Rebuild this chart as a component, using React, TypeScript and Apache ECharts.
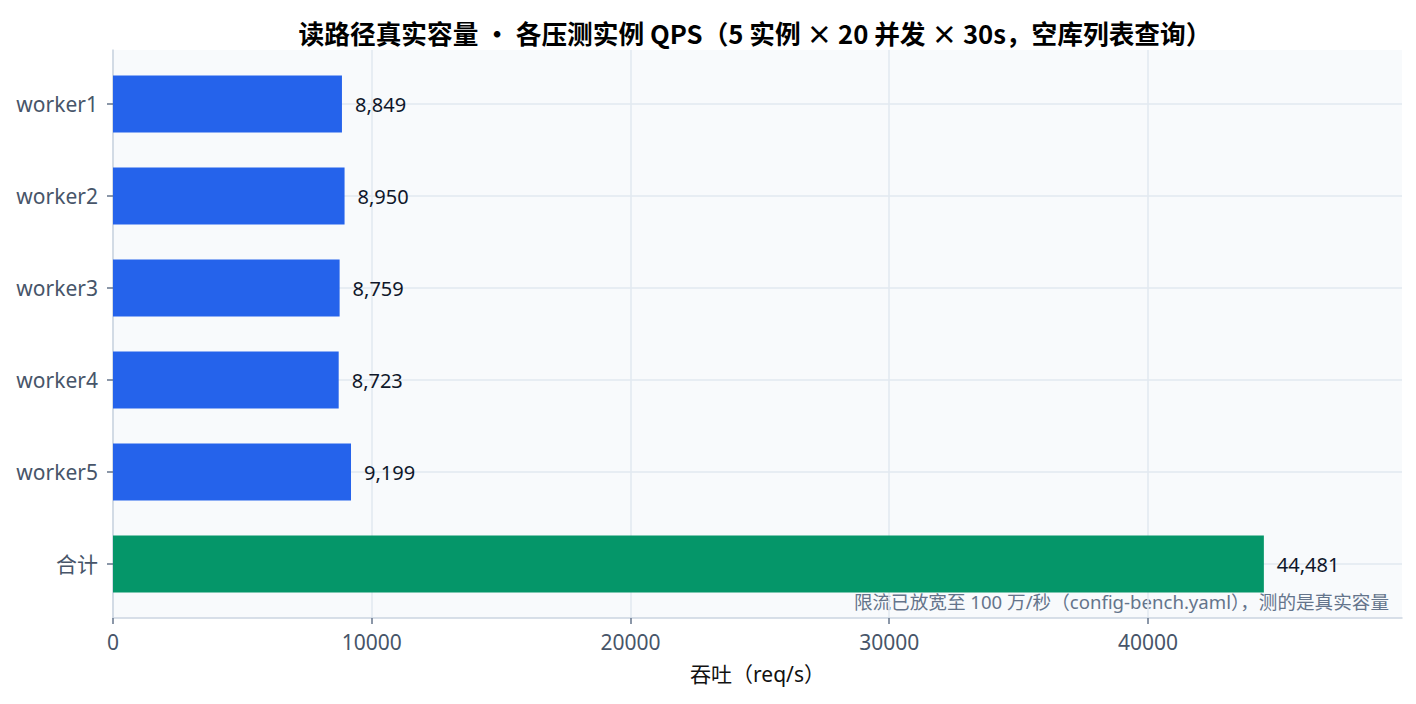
import React, { useRef, useEffect } from 'react';
import * as echarts from 'echarts';

const FONT = '"Noto Sans", "Noto Sans CJK SC", sans-serif';
const FONT_CJK = '"Noto Sans CJK SC", "Noto Sans", sans-serif';

// ─── Data ────────────────────────────────────────────────────────────────────
const CATEGORIES = ['worker1', 'worker2', 'worker3', 'worker4', 'worker5', '合计'];
const QPS = [8849, 8950, 8759, 8723, 9199, 44481];
const X_TICK_MAX = 40000;   // last labelled tick
const X_TICK_STEP = 10000;
const X_MAX = 49820;        // axis extent (no tick drawn here)

const TITLE = '读路径真实容量 • 各压测实例 QPS（5 实例 × 20 并发 × 30s，空库列表查询）';
const NOTE = '限流已放宽至 100 万/秒（config-bench.yaml），测的是真实容量';
const X_NAME = '吞吐（req/s）';

// ─── Layout / styles ─────────────────────────────────────────────────────────
const W = 1416;
const H = 704;
const G_LEFT = 113;
const G_RIGHT = 14;
const PLOT_W = W - G_LEFT - G_RIGHT;

const BLUE = '#2563eb';
const GREEN = '#059669';
const PLOT_BG = '#f8fafc';
const SPLIT = '#e2e8f0';
const AXIS_LINE = '#cbd5e1';
const TICK = '#64748b';
const LABEL = '#475569';
const DARK = '#0f172a';

function getOption(): echarts.EChartsCoreOption {
  return {
    animation: false,
    backgroundColor: '#ffffff',
    title: {
      text: TITLE,
      left: 750,
      textAlign: 'center',
      top: 15,
      textStyle: { fontFamily: FONT_CJK, fontSize: 25.7, fontWeight: 'bold', color: '#000000' },
    },
    grid: [
      // 0: frame — background, left + bottom axis lines, axis name
      { left: G_LEFT, right: G_RIGHT, top: 50, bottom: 86, show: true, backgroundColor: PLOT_BG, borderWidth: 0 },
      // 1: tick scale — 0..40000 only, so no tick at the far end
      { left: G_LEFT, width: (PLOT_W * X_TICK_MAX) / X_MAX, top: 50, bottom: 86 },
      // 2: bars
      { left: G_LEFT, right: G_RIGHT, top: 58, bottom: 94 },
    ],
    xAxis: [
      {
        gridIndex: 0,
        type: 'value',
        min: 0,
        max: X_MAX,
        axisLine: { show: true, lineStyle: { color: AXIS_LINE, width: 1.5 } },
        axisTick: { show: false },
        axisLabel: { show: false },
        splitLine: { show: false },
        name: X_NAME,
        nameLocation: 'middle',
        nameGap: 45,
        nameTextStyle: { fontSize: 21, color: '#111111', fontFamily: FONT },
      },
      {
        gridIndex: 1,
        type: 'value',
        min: 0,
        max: X_TICK_MAX,
        interval: X_TICK_STEP,
        axisLine: { show: false },
        axisTick: { show: true, length: 6, lineStyle: { color: TICK, width: 1.5 } },
        axisLabel: {
          margin: 13,
          fontSize: 21,
          color: LABEL,
          fontFamily: FONT,
          formatter: (v: number) => String(v),
        },
        splitLine: { show: true, lineStyle: { color: SPLIT, width: 1.5 } },
      },
      { gridIndex: 2, type: 'value', min: 0, max: X_MAX, show: false },
    ],
    yAxis: [
      {
        gridIndex: 0,
        type: 'value',
        min: 0,
        max: 1,
        axisLine: { show: true, lineStyle: { color: AXIS_LINE, width: 1.5 } },
        axisTick: { show: false },
        axisLabel: { show: false },
        splitLine: { show: false },
      },
      {
        gridIndex: 1,
        type: 'value',
        min: 0,
        max: 1,
        show: false,
      },
      {
        gridIndex: 2,
        type: 'category',
        inverse: true,
        data: CATEGORIES,
        axisLine: { show: false },
        axisTick: { show: true, alignWithLabel: true, length: 6, lineStyle: { color: TICK, width: 1.5 } },
        axisLabel: { margin: 15, fontSize: 21, color: LABEL, fontFamily: FONT },
        splitLine: { show: false },
      },
    ],
    graphic: [
      {
        type: 'text',
        right: 27,
        top: 592,
        style: { text: NOTE, fill: TICK, font: `18.6px ${FONT}` },
      },
    ],
    series: [
      {
        type: 'bar',
        xAxisIndex: 2,
        yAxisIndex: 2,
        barWidth: '62%',
        z: 3,
        data: QPS.map((v, i) => ({
          value: v,
          itemStyle: { color: i === CATEGORIES.length - 1 ? GREEN : BLUE },
        })),
        label: {
          show: true,
          position: 'right',
          distance: 13,
          fontSize: 20,
          color: DARK,
          fontFamily: FONT,
          formatter: (p: any) => Number(p.value).toLocaleString('en-US'),
        },
        // horizontal guide lines through each category centre
        markLine: {
          silent: true,
          z: 1,
          symbol: 'none',
          label: { show: false },
          lineStyle: { color: SPLIT, width: 1.5, type: 'solid' },
          data: CATEGORIES.map(c => ({ yAxis: c })),
        },
      },
    ],
  };
}

function Chart() {
  const ref = useRef<HTMLDivElement>(null);

  useEffect(() => {
    if (!ref.current) return;
    const chart = echarts.init(ref.current, undefined, { renderer: 'svg' });
    chart.setOption(getOption());
    return () => chart.dispose();
  }, []);

  return <div ref={ref} style={{ width: W, height: H }} />;
}

export default function App() {
  return (
    <div style={{ position: 'absolute', left: 0, top: 0, width: W, height: H, background: '#fff' }}>
      <Chart />
    </div>
  );
}
